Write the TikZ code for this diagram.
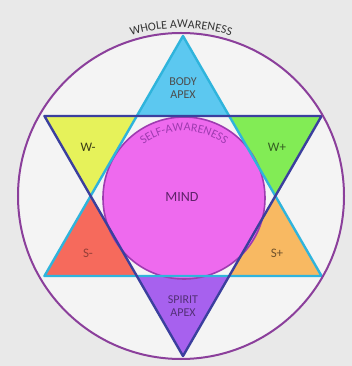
\documentclass[tikz,border=0pt]{standalone}
\usepackage{fontspec}
\setmainfont{Carlito}
\usetikzlibrary{calc,decorations.text}

\definecolor{bggray}{HTML}{E9E9E9}
\definecolor{inwhite}{HTML}{F4F4F4}
\definecolor{ringpurple}{HTML}{8B3F9B}
\definecolor{bodyblue}{HTML}{5CC8F0}
\definecolor{wminus}{HTML}{E6F25A}
\definecolor{wplus}{HTML}{82EC55}
\definecolor{sminus}{HTML}{F66A5C}
\definecolor{splus}{HTML}{F8B962}
\definecolor{spiritviolet}{HTML}{A761EE}
\definecolor{mindpink}{HTML}{EE6AEE}
\definecolor{mindline}{HTML}{9E3BB0}
\definecolor{upline}{HTML}{2FB4DC}
\definecolor{downline}{HTML}{3B3F9E}

\begin{document}
\begin{tikzpicture}[x=1pt, y=1pt,
    tri/.style={line width=2.4pt, line join=round},
    lbl/.style={font=\fontsize{12}{13}\selectfont, align=center, text=black!70}]
    \useasboundingbox [fill=bggray] (-183,-170) rectangle (169,196);
    \coordinate (ctr) at (0,0);
    \coordinate (ring) at (-2,0);
    \fill [inwhite] (ring) circle (163);

    % star points
    \foreach \a/\col in {90/bodyblue, 150/wminus, 30/wplus, 210/sminus, 330/splus, 270/spiritviolet}
        \fill [\col] (\a:160) -- (\a-30:92.4) -- (\a+30:92.4) -- cycle;
    \node (mind) at (1,-2) [circle, minimum size=162pt, inner sep=0pt, fill=mindpink, draw=mindline, line width=1.6pt] {};
    \draw [tri, upline] (90:160) -- (210:160) -- (330:160) -- cycle;
    \draw [tri, downline] (270:160) -- (30:160) -- (150:160) -- cycle;
    \draw [ringpurple, line width=2pt] (ring) circle (163);

    \node (mindtxt) at (-1,-1) [lbl, font=\fontsize{14}{14}\selectfont, text=mindline!60!black] {MIND};
    \node (body)   at (0,108)   [lbl, text=black!70] {BODY\\APEX};
    \node (spirit) at (0,-110)  [lbl, text=spiritviolet!50!black] {SPIRIT\\APEX};
    \node (wm) at (-95,49)  [lbl, font=\fontsize{13}{13}\selectfont, text=wminus!25!black] {W-};
    \node (wp) at (94,49)   [lbl, font=\fontsize{13}{13}\selectfont, text=wplus!40!black] {W+};
    \node (sm) at (-95,-57) [lbl, font=\fontsize{13}{13}\selectfont, text=sminus!60!black] {S-};
    \node (sp) at (94,-57)  [lbl, font=\fontsize{13}{13}\selectfont, text=splus!45!black] {S+};

    \path [decorate, decoration={text along path, text align=center,
        text={|\color{black!80}\fontsize{12}{12}\selectfont|WHOLE AWARENESS}}]
        ($(ring)+(125:168)$) arc (125:55:168);
    \path [decorate, decoration={text along path, text align=center,
        text={|\color{mindline}\fontsize{12}{12}\selectfont|SELF-AWARENESS}}]
        ($(mind.center)+(140:67)$) arc (140:40:67);
\end{tikzpicture}
\end{document}
